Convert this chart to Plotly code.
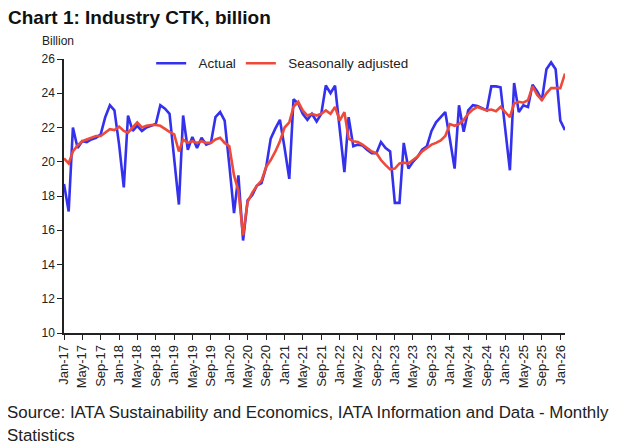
import plotly.graph_objects as go
import pandas as pd

months = pd.date_range("2017-01-01", "2026-02-01", freq="MS")

actual = [
    18.7, 17.1, 22.0, 20.8, 21.2, 21.15, 21.3, 21.4, 21.6, 22.6, 23.3, 23.0,
    21.0, 18.5, 22.7, 21.8, 22.1, 21.8, 22.0, 22.1, 22.2, 23.3, 23.1, 22.8,
    20.0, 17.5, 22.7, 20.7, 21.45, 20.8, 21.4, 21.0, 21.1, 22.6, 22.9, 22.4,
    19.8, 17.0, 19.2, 15.4, 17.75, 18.05, 18.6, 18.75, 19.7, 21.35, 21.95, 22.45,
    20.8, 19.0, 23.65, 23.4, 22.8, 22.45, 22.8, 22.35, 22.8, 24.45, 24.0, 24.45,
    21.9, 19.4, 22.6, 20.9, 21.0, 20.95, 20.7, 20.5, 20.5, 21.15, 20.8, 20.6,
    17.6, 17.6, 21.1, 19.6, 20.0, 20.3, 20.7, 20.9, 21.8, 22.3, 22.6, 22.9,
    21.3, 19.6, 23.3, 21.75, 23.0, 23.3, 23.25, 23.1, 23.0, 24.4, 24.4, 24.35,
    21.9, 19.5, 24.6, 22.9, 23.3, 23.2, 24.5, 24.1, 23.6, 25.4, 25.8, 25.4,
    22.4, 21.85,
]

seasonally_adjusted = [
    20.2, 19.9, 20.6, 20.95, 21.2, 21.3, 21.4, 21.5, 21.5, 21.7, 21.9, 21.85,
    22.05, 21.8, 21.7, 22.0, 22.3, 22.0, 22.1, 22.15, 22.15, 22.1, 21.9, 21.75,
    21.6, 20.6, 21.3, 21.1, 21.2, 21.1, 21.2, 21.1, 21.1, 21.3, 21.4, 21.1,
    20.9, 19.2, 18.3, 15.7, 17.65, 18.2, 18.6, 18.9, 19.7, 20.1, 20.6, 21.2,
    22.0, 22.3, 23.2, 23.5, 23.0, 22.7, 22.8, 22.7, 22.8, 23.0, 22.8, 23.2,
    22.4, 22.9, 21.35, 21.2, 21.15, 21.0, 20.8, 20.6, 20.5, 20.1, 19.8, 19.55,
    19.6, 19.9, 19.95, 19.9, 20.1, 20.3, 20.6, 20.8, 21.0, 21.1, 21.25, 21.5,
    22.2, 22.1, 22.2, 22.45, 22.8, 23.05, 23.2, 23.1, 23.0, 23.05, 22.95, 23.2,
    22.9, 22.6, 23.4, 23.5, 23.45, 23.6, 24.4, 23.9, 23.6, 24.0, 24.3, 24.3,
    24.3, 25.15,
]

tick_dates = pd.date_range("2017-01-01", "2026-01-01", freq="4MS")
tick_labels = [d.strftime("%b-%y") for d in tick_dates]
y_ticks = [10, 12, 14, 16, 18, 20, 22, 24, 26]

FONT = "Liberation Sans"
PAD = "\u00a0\u00a0"

fig = go.Figure()
fig.add_trace(go.Scatter(x=months, y=actual, mode="lines", name=PAD + "Actual",
                         line=dict(color="#3431EE", width=2.6)))
fig.add_trace(go.Scatter(x=months, y=seasonally_adjusted, mode="lines",
                         name=PAD + "Seasonally adjusted",
                         line=dict(color="#EE4A3A", width=2.6)))

fig.update_layout(
    width=617, height=444,
    margin=dict(l=56, r=60, t=51, b=119),
    paper_bgcolor="white", plot_bgcolor="white",
    font=dict(family=FONT, size=12, color="#222222"),
    showlegend=True,
    legend=dict(orientation="h", x=0.174, y=1.04, xanchor="left", yanchor="top",
                bgcolor="rgba(0,0,0,0)", font=dict(size=13.4, color="#222222"),
                itemwidth=30),
    title=dict(text="<b>Chart 1: Industry CTK, billion</b>",
               x=0, xanchor="left", xref="container",
               y=1 - 9 / 444, yanchor="middle", yref="container",
               pad=dict(l=0, t=0, b=0, r=0),
               font=dict(family=FONT, size=19, color="#111111")),
    annotations=[
        dict(text="Billion", xref="paper", yref="paper",
             x=(40 - 64) / 501, y=(333 - 41) / 274,
             xanchor="left", yanchor="middle", showarrow=False,
             font=dict(size=12, color="#222222")),
        dict(text="Source: IATA Sustainability and Economics, IATA Information and Data - Monthly",
             xref="paper", yref="paper", x=(5 - 64) / 501, y=(333 - 412) / 274,
             xanchor="left", yanchor="middle", showarrow=False,
             font=dict(size=16.9, color="#222222")),
        dict(text="Statistics",
             xref="paper", yref="paper", x=(5 - 64) / 501, y=(333 - 435) / 274,
             xanchor="left", yanchor="middle", showarrow=False,
             font=dict(size=16.9, color="#222222")),
    ],
)

fig.update_xaxes(
    type="date", range=[months[0], months[-1]],
    tickvals=list(tick_dates), ticktext=tick_labels, tickangle=-90,
    showline=True, linecolor="#222222", linewidth=1.5,
    ticks="outside", ticklen=5, tickcolor="#222222", tickwidth=1.2,
    showgrid=False, zeroline=False, tickfont=dict(size=13),
)
fig.update_yaxes(
    range=[10, 26], tickvals=y_ticks,
    showline=True, linecolor="#222222", linewidth=1.5,
    ticks="outside", ticklen=5, tickcolor="#222222", tickwidth=1.2,
    showgrid=False, zeroline=False, tickfont=dict(size=12),
)

fig.write_html("out.html")
